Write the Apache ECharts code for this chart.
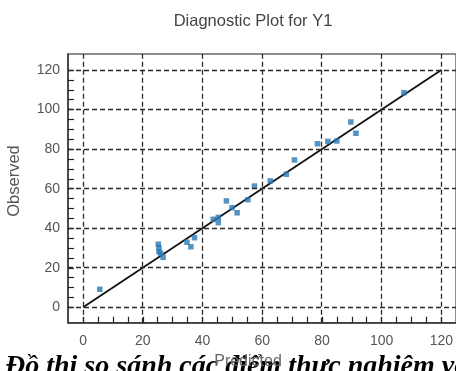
<!DOCTYPE html>
<html><head><meta charset="utf-8">
<script src="https://cdn.jsdelivr.net/npm/echarts@6/dist/echarts.min.js"></script>
<style>html,body{margin:0;padding:0;background:#fff}#c{width:456px;height:371px}</style>
</head><body><div id="c"></div>
<script>
// Data
const predicted = [5.6, 25.2, 25.4, 25.4, 26.0, 26.8, 34.8, 36.1, 37.3, 43.6, 45.3, 45.3, 48.0, 49.9, 51.6, 55.2, 57.4, 62.7, 68.1, 70.8, 78.5, 82.0, 85.0, 89.7, 91.4, 107.5];
const observed  = [9.1, 31.9, 30.1, 28.1, 27.3, 25.3, 32.9, 30.6, 35.2, 44.5, 45.5, 42.8, 53.8, 50.4, 47.8, 54.4, 61.3, 63.9, 67.3, 74.5, 82.7, 83.9, 84.1, 93.7, 88.0, 108.5];
const fitLineX = [0, 120];
const fitLineY = [0, 120];
const gridValuesX = [0, 20, 40, 60, 80, 100, 120];
const gridValuesY = [0, 20, 40, 60, 80, 100, 120];
const titleText = 'Diagnostic Plot for Y1';
const xName = 'Predicted';
const yName = 'Observed';
const captionText = 'Đồ thị so sánh các điểm thực nghiệm với';

const font = 'Liberation Sans, Arial, sans-serif';
const chart = echarts.init(document.getElementById('c'), null, {renderer: 'canvas'});
const dash = {color: '#2a2a2a', width: 1.3, type: [5, 3]};
const tickStyle = {color: '#222', width: 1.2};

chart.setOption({
  animation: false,
  backgroundColor: '#fff',
  grid: [
    {left: 68, top: 54, width: 393, height: 268.7, show: true, borderColor: '#6a6a6a', borderWidth: 1.5, backgroundColor: 'transparent', containLabel: false},
    {left: 83.1, top: 70, width: 362.8, height: 237.3, containLabel: false}
  ],
  xAxis: [
    {gridIndex: 0, type: 'value', min: -5, max: 125, axisLine: {show: true, onZero: false, lineStyle: {color: '#333', width: 1.5}}, axisTick: {show: false}, axisLabel: {show: false}, splitLine: {show: false}},
    {gridIndex: 1, type: 'value', min: 0, max: 120, interval: 20, offset: 15.4,
     axisLine: {show: false, onZero: false}, axisTick: {show: true, inside: true, length: 6, lineStyle: tickStyle},
     minorTick: {show: true, splitNumber: 4, length: 6, lineStyle: tickStyle},
     axisLabel: {margin: 11, color: '#555', fontSize: 14, fontFamily: font}, splitLine: {show: false}}
  ],
  yAxis: [
    {gridIndex: 0, type: 'value', min: -7.8, max: 128.1, axisLine: {show: true, onZero: false, lineStyle: {color: '#333', width: 1.5}}, axisTick: {show: false}, axisLabel: {show: false}, splitLine: {show: false}},
    {gridIndex: 1, type: 'value', min: 0, max: 120, interval: 20, offset: 15.1,
     axisLine: {show: false, onZero: false}, axisTick: {show: true, inside: true, length: 6, lineStyle: tickStyle},
     minorTick: {show: true, splitNumber: 4, length: 6, lineStyle: tickStyle},
     axisLabel: {margin: 8, color: '#555', fontSize: 14, fontFamily: font}, splitLine: {show: false}}
  ],
  series: [
    {type: 'line', xAxisIndex: 0, yAxisIndex: 0, data: [], silent: true, z: 1,
     markLine: {silent: true, symbol: ['none', 'none'], label: {show: false}, lineStyle: dash, animation: false,
       data: gridValuesX.map(v => ({xAxis: v})).concat(gridValuesY.map(v => ({yAxis: v})))}},
    {type: 'line', xAxisIndex: 1, yAxisIndex: 1, data: fitLineX.map((x, i) => [x, fitLineY[i]]), showSymbol: false, symbol: 'none',
     lineStyle: {color: '#111', width: 1.8}, z: 3, silent: true},
    {type: 'scatter', xAxisIndex: 1, yAxisIndex: 1, data: predicted.map((x, i) => [x, observed[i]]), symbol: 'rect', symbolSize: 5.5,
     itemStyle: {color: '#2a78b4'}, z: 4}
  ],
  graphic: [
    {type: 'text', x: 253, y: 21, style: {text: titleText, fill: '#444', font: '16.5px ' + font, textAlign: 'center', textVerticalAlign: 'middle'}},
    {type: 'text', x: 14, y: 181, rotation: Math.PI / 2, style: {text: yName, fill: '#555', font: '16.5px ' + font, textAlign: 'center', textVerticalAlign: 'middle'}},
    {type: 'text', x: 5, y: 381, z: 10, style: {text: captionText, fill: '#000', font: 'italic bold 28px "Liberation Serif", "Times New Roman", serif', textAlign: 'left', textVerticalAlign: 'bottom'}},
    {type: 'text', x: 248, y: 362, z: 20, style: {text: xName, fill: '#666', font: '16px ' + font, textAlign: 'center', textVerticalAlign: 'middle'}}
  ]
});
</script></body></html>
